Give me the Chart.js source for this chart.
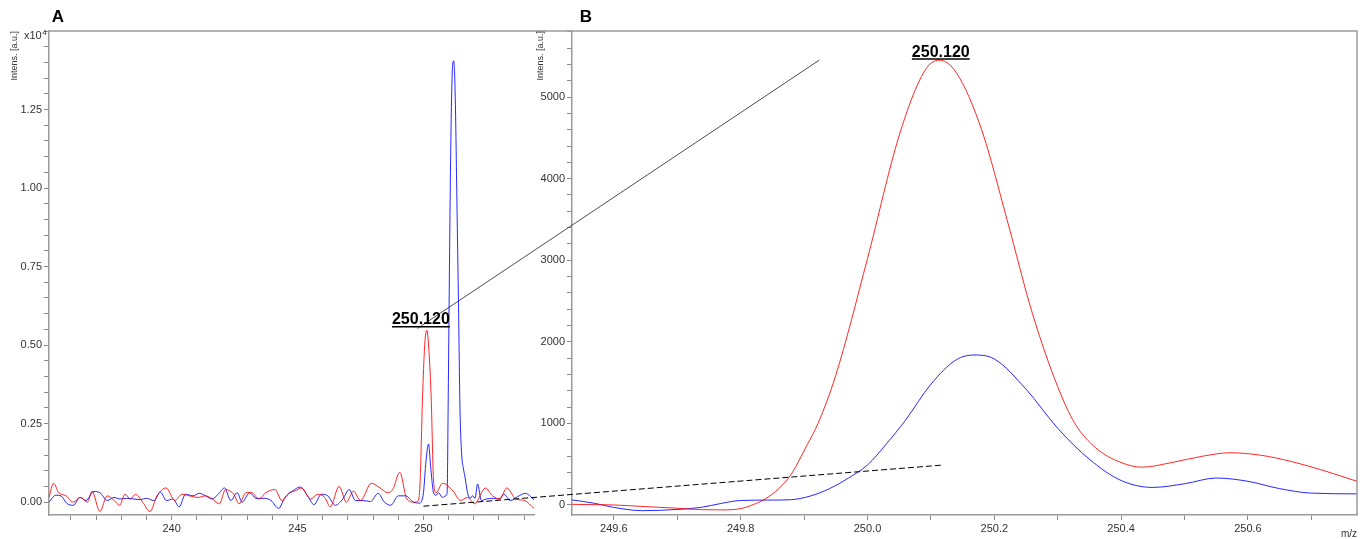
<!DOCTYPE html>
<html>
<head>
<meta charset="utf-8">
<title>Intens. [a.u.] – m/z 250.120</title>
<script src="https://cdn.jsdelivr.net/npm/chart.js@4.4.1/dist/chart.umd.min.js"></script>
<style>
  html, body { margin: 0; padding: 0; background: #fff; }
  #wrap { position: relative; width: 1372px; height: 539px; overflow: hidden; }
  #wrap canvas { position: absolute; left: 0; top: 0; }
</style>
</head>
<body>
<div id="wrap">
  <canvas id="chartA" width="1372" height="539"></canvas>
  <canvas id="chartB" width="1372" height="539"></canvas>
</div>
<script>
/* ── Two mass spectra: full view (A) and zoom on m/z 250.120 (B) ───────────── */

const FONT = "'Liberation Sans', Arial, sans-serif";

// ── Panel A data (intensity in units of 10^4) ────────────────────────────────
const A_RED_MZ = [
  235.13, 235.31, 235.52, 235.81, 236.09, 236.38, 236.66, 236.84, 237.15, 237.44,
  237.72, 237.93, 238.15, 238.36, 238.57, 238.85, 239.14, 239.42, 239.78, 240.13,
  240.41, 240.70, 241.05, 241.34, 241.62, 241.90, 242.14, 242.47, 242.68, 242.96,
  243.18, 243.46, 243.74, 244.10, 244.38, 244.67, 244.88, 245.16, 245.52, 245.80,
  246.08, 246.30, 246.65, 246.94, 247.22, 247.50, 247.93, 248.28, 248.57, 248.78,
  249.06, 249.34, 249.63, 249.80, 249.87, 249.96, 250.05, 250.135, 250.22, 250.31,
  250.40, 250.50, 250.76, 251.18, 251.47, 251.75, 252.03, 252.46, 252.74, 253.03,
  253.31, 253.67, 254.02, 254.39,
];
const A_RED_INT = [
  0.015, 0.06, 0.03, 0.02, 0.0, 0.015, 0.0, 0.035, -0.03, 0.02,
  0.005, -0.01, 0.025, 0.01, 0.025, 0.0, -0.03, 0.02, 0.045, 0.005,
  0.025, 0.02, 0.015, 0.02, 0.01, -0.005, 0.04, 0.025, -0.005, 0.03,
  0.03, 0.01, 0.03, 0.04, 0.005, 0.03, 0.035, 0.045, 0.01, 0.025,
  0.015, -0.015, 0.05, 0.0, 0.035, 0.005, 0.06, 0.045, 0.03, 0.04,
  0.095, 0.01, 0.0, 0.005, 0.07, 0.325, 0.5, 0.547, 0.48, 0.325,
  0.07, 0.03, 0.06, 0.035, 0.005, 0.015, -0.005, 0.045, 0.02, 0.01,
  0.045, 0.01, 0.005, -0.02,
];
const A_BLUE_MZ = [
  235.13, 235.40, 235.60, 235.85, 236.10, 236.35, 236.60, 236.90, 237.15, 237.45,
  237.70, 237.95, 238.20, 238.50, 238.75, 239.00, 239.30, 239.55, 239.80, 240.05,
  240.30, 240.55, 240.85, 241.10, 241.35, 241.60, 241.85, 242.10, 242.35, 242.60,
  242.80, 243.10, 243.35, 243.70, 243.95, 244.25, 244.50, 244.80, 245.10, 245.40,
  245.65, 245.95, 246.20, 246.50, 246.80, 247.05, 247.30, 247.60, 247.90, 248.20,
  248.45, 248.70, 249.00, 249.30, 249.60, 249.85, 250.00, 250.10, 250.20, 250.30,
  250.40, 250.50, 250.60, 250.75, 250.88, 250.94, 250.98, 251.02, 251.08, 251.15,
  251.20, 251.26, 251.33, 251.39, 251.45, 251.52, 251.58, 251.65, 251.75, 251.85,
  251.95, 252.05, 252.15, 252.30, 252.50, 252.75, 253.00, 253.20, 253.45, 253.75,
  254.05, 254.39,
];
const A_BLUE_INT = [
  0.0, 0.022, 0.02, -0.005, -0.01, 0.015, 0.005, 0.034, 0.03, 0.005,
  0.015, 0.01, 0.012, 0.01, 0.008, 0.012, 0.005, 0.032, 0.005, 0.01,
  -0.015, 0.025, 0.02, 0.028, 0.02, 0.01, 0.025, 0.045, 0.005, 0.03,
  0.0, 0.03, 0.012, 0.012, 0.005, -0.02, 0.015, 0.035, 0.048, 0.02,
  -0.008, 0.025, 0.02, -0.01, 0.01, 0.04, 0.005, 0.005, 0.002, 0.028,
  0.0, -0.01, 0.02, 0.02, 0.0, -0.003, 0.03, 0.13, 0.185, 0.1,
  0.03, 0.022, 0.03, 0.015, 0.02, 0.03, 0.3, 0.64, 1.1, 1.38,
  1.405, 1.3, 0.95, 0.64, 0.3, 0.15, 0.11, 0.08, 0.03, 0.012,
  0.02, 0.012, 0.058, 0.005, 0.01, 0.012, 0.01, 0.025, 0.005, 0.018,
  0.028, 0.008,
];

const A_X_RANGE  = [235.13, 254.39];
const A_Y_RANGE  = [-0.041, 1.5];
const A_X_LABELS = [240, 245, 250];
const A_X_MINOR  = 1;
const A_Y_LABELS = [0, 0.25, 0.5, 0.75, 1.0, 1.25];
const A_Y_MINOR  = 0.05;

// ── Panel B data (zoom, intensity in a.u.) ───────────────────────────────────
const B_RED_MZ = [
  249.534, 249.56, 249.60, 249.65, 249.70, 249.74, 249.77, 249.80, 249.82, 249.84,
  249.86, 249.88, 249.905, 249.922, 249.95, 250.00, 250.05, 250.09, 250.113, 250.14,
  250.18, 250.22, 250.26, 250.30, 250.327, 250.36, 250.40, 250.433, 250.48, 250.53,
  250.572, 250.62, 250.67, 250.72, 250.772,
];
const B_RED_INT = [
  8, 5, 0, -20, -40, -58, -60, -45, 5, 80,
  200, 380, 740, 1000, 1590, 3020, 4530, 5320, 5453, 5300,
  4600, 3500, 2350, 1450, 1000, 700, 520, 463, 520, 600,
  640, 610, 530, 420, 290,
];
const B_BLUE_MZ = [
  249.534, 249.57, 249.60, 249.645, 249.70, 249.738, 249.77, 249.80, 249.85, 249.88,
  249.91, 249.94, 249.97, 250.00, 250.03, 250.06, 250.10, 250.14, 250.168, 250.20,
  250.25, 250.30, 250.35, 250.40, 250.45, 250.50, 250.55, 250.60, 250.65, 250.70,
  250.772,
];
const B_BLUE_INT = [
  62, 20, -30, -70, -55, -29, 20, 55, 60, 65,
  110, 200, 330, 490, 750, 1040, 1480, 1780, 1838, 1790,
  1420, 940, 560, 300, 215, 260, 330, 290, 200, 145,
  136,
];

const B_X_RANGE  = [249.534, 250.772];
const B_Y_RANGE  = [-123, 5810];
const B_X_LABELS = [249.6, 249.8, 250.0, 250.2, 250.4, 250.6];
const B_X_MINOR  = 0.1;
const B_Y_LABELS = [0, 1000, 2000, 3000, 4000, 5000];
const B_Y_MINOR  = 200;

// ── Annotations (data coordinates) ───────────────────────────────────────────
const PEAK_TEXT        = "250.120";
const A_PEAK_LABEL_AT  = [249.897, 0.558];
const B_PEAK_LABEL_AT  = [250.1156, 5466];
const SOLID_LINK_FROM_A = [249.76, 0.553];
const SOLID_LINK_TO_B   = [249.924, 5453];
const DASH_LINK_FROM_A  = [250.0, -0.013];
const DASH_LINK_TO_B    = [250.12, 490];

const RED  = "rgba(255,0,0,0.85)";
const BLUE = "rgba(0,0,255,0.85)";
const AXIS = "#9a9a9a";

// ── Helpers ──────────────────────────────────────────────────────────────────
function stepTicks(min, max, step) {
  const out = [];
  for (let k = Math.ceil(min / step - 1e-9); k * step <= max + 1e-9; k++) {
    out.push({ value: +(k * step).toFixed(6) });
  }
  return out;
}

function toPoints(mz, ints) {
  return mz.map((x, i) => ({ x, y: ints[i] }));
}

function lineSet(data, color) {
  return {
    data,
    borderColor: color,
    borderWidth: 1,
    pointRadius: 0,
    fill: false,
    cubicInterpolationMode: "monotone",
  };
}

function axis(range, labels, minor, fmt, fit) {
  return {
    type: "linear",
    min: range[0],
    max: range[1],
    afterBuildTicks: (s) => { s.ticks = stepTicks(range[0], range[1], minor); },
    afterFit: fit,
    ticks: {
      autoSkip: false,
      maxRotation: 0,
      padding: 2,
      color: "#333",
      font: { family: FONT, size: 11 },
      callback: (v) => (labels.some((l) => Math.abs(l - v) < 1e-6) ? fmt(v) : ""),
    },
    grid: { drawOnChartArea: false, drawTicks: true, tickLength: 5, tickColor: "#888", tickWidth: 1 },
    border: { display: true, color: AXIS, width: 1.5 },
  };
}

function baseOptions(padding, xAxis, yAxis) {
  return {
    responsive: false,
    animation: false,
    events: [],
    layout: { padding, autoPadding: false },
    plugins: { legend: { display: false }, tooltip: { enabled: false } },
    scales: { x: xAxis, y: yAxis },
  };
}

// ── Chart A ──────────────────────────────────────────────────────────────────
const chartA = new Chart(document.getElementById("chartA"), {
  type: "line",
  data: {
    datasets: [
      lineSet(toPoints(A_RED_MZ, A_RED_INT), RED),
      lineSet(toPoints(A_BLUE_MZ, A_BLUE_INT), BLUE),
    ],
  },
  options: baseOptions(
    { left: 0, top: 31, right: 838, bottom: 0 },
    axis(A_X_RANGE, A_X_LABELS, A_X_MINOR, (v) => String(v), (s) => { s.height = 24; }),
    axis(A_Y_RANGE, A_Y_LABELS, A_Y_MINOR, (v) => v.toFixed(2), (s) => { s.width = 49; })
  ),
});

// ── Overlay: frame, zoom links, labels ───────────────────────────────────────
function drawPeakLabel(ctx, x, y) {
  ctx.font = `bold 16px ${FONT}`;
  ctx.fillStyle = "#000";
  ctx.textAlign = "center";
  ctx.textBaseline = "alphabetic";
  ctx.fillText(PEAK_TEXT, x, y - 2.5);
  const w = ctx.measureText(PEAK_TEXT).width;
  ctx.strokeStyle = "#000";
  ctx.lineWidth = 1.5;
  ctx.beginPath();
  ctx.moveTo(x - w / 2, y);
  ctx.lineTo(x + w / 2, y);
  ctx.stroke();
}

function drawYTitle(ctx, x, top) {
  ctx.save();
  ctx.translate(x, top);
  ctx.rotate(-Math.PI / 2);
  ctx.font = `9px ${FONT}`;
  ctx.fillStyle = "#333";
  ctx.textAlign = "right";
  ctx.textBaseline = "middle";
  ctx.fillText("Intens. [a.u.]", 0, 0);
  ctx.restore();
}

const overlay = {
  id: "overlay",
  afterDraw(chart) {
    const ctx = chart.ctx;
    const ax = chartA.scales.x, ay = chartA.scales.y;
    const bx = chart.scales.x, by = chart.scales.y;
    const aArea = chartA.chartArea, bArea = chart.chartArea;

    ctx.save();

    // top frame line across both panels + right edge of B
    ctx.strokeStyle = AXIS;
    ctx.lineWidth = 1.5;
    ctx.beginPath();
    ctx.moveTo(aArea.left, aArea.top);
    ctx.lineTo(bArea.right, bArea.top);
    ctx.lineTo(bArea.right, bArea.bottom);
    ctx.stroke();

    // zoom links
    ctx.strokeStyle = "#222";
    ctx.lineWidth = 0.8;
    ctx.beginPath();
    ctx.moveTo(ax.getPixelForValue(SOLID_LINK_FROM_A[0]), ay.getPixelForValue(SOLID_LINK_FROM_A[1]));
    ctx.lineTo(bx.getPixelForValue(SOLID_LINK_TO_B[0]), by.getPixelForValue(SOLID_LINK_TO_B[1]));
    ctx.stroke();

    ctx.strokeStyle = "#000";
    ctx.lineWidth = 1;
    ctx.setLineDash([6, 3]);
    ctx.beginPath();
    ctx.moveTo(ax.getPixelForValue(DASH_LINK_FROM_A[0]), ay.getPixelForValue(DASH_LINK_FROM_A[1]));
    ctx.lineTo(bx.getPixelForValue(DASH_LINK_TO_B[0]), by.getPixelForValue(DASH_LINK_TO_B[1]));
    ctx.stroke();
    ctx.setLineDash([]);

    // peak labels
    drawPeakLabel(ctx, ax.getPixelForValue(A_PEAK_LABEL_AT[0]), ay.getPixelForValue(A_PEAK_LABEL_AT[1]));
    drawPeakLabel(ctx, bx.getPixelForValue(B_PEAK_LABEL_AT[0]), by.getPixelForValue(B_PEAK_LABEL_AT[1]));

    // panel letters
    ctx.font = `bold 17px ${FONT}`;
    ctx.fillStyle = "#000";
    ctx.textAlign = "center";
    ctx.textBaseline = "middle";
    ctx.fillText("A", aArea.left + 9, 17);
    ctx.fillText("B", bArea.left + 14, 17);

    // axis titles
    drawYTitle(ctx, 15, aArea.top);
    drawYTitle(ctx, 541, bArea.top);

    ctx.fillStyle = "#333";
    ctx.textAlign = "left";
    ctx.textBaseline = "alphabetic";
    ctx.font = `11px ${FONT}`;
    ctx.fillText("x10", 24, 39);
    const w = ctx.measureText("x10").width;
    ctx.font = `8px ${FONT}`;
    ctx.fillText("4", 24 + w + 0.5, 35);

    ctx.font = `10px ${FONT}`;
    ctx.textAlign = "right";
    ctx.fillText("m/z", bArea.right, 537);

    ctx.restore();
  },
};

// ── Chart B ──────────────────────────────────────────────────────────────────
const chartB = new Chart(document.getElementById("chartB"), {
  type: "line",
  data: {
    datasets: [
      lineSet(toPoints(B_RED_MZ, B_RED_INT), RED),
      lineSet(toPoints(B_BLUE_MZ, B_BLUE_INT), BLUE),
    ],
  },
  options: baseOptions(
    { left: 523, top: 31, right: 15, bottom: 0 },
    axis(B_X_RANGE, B_X_LABELS, B_X_MINOR, (v) => v.toFixed(1), (s) => { s.height = 24; }),
    axis(B_Y_RANGE, B_Y_LABELS, B_Y_MINOR, (v) => String(Math.round(v)), (s) => { s.width = 49; })
  ),
  plugins: [overlay],
});
</script>
</body>
</html>
